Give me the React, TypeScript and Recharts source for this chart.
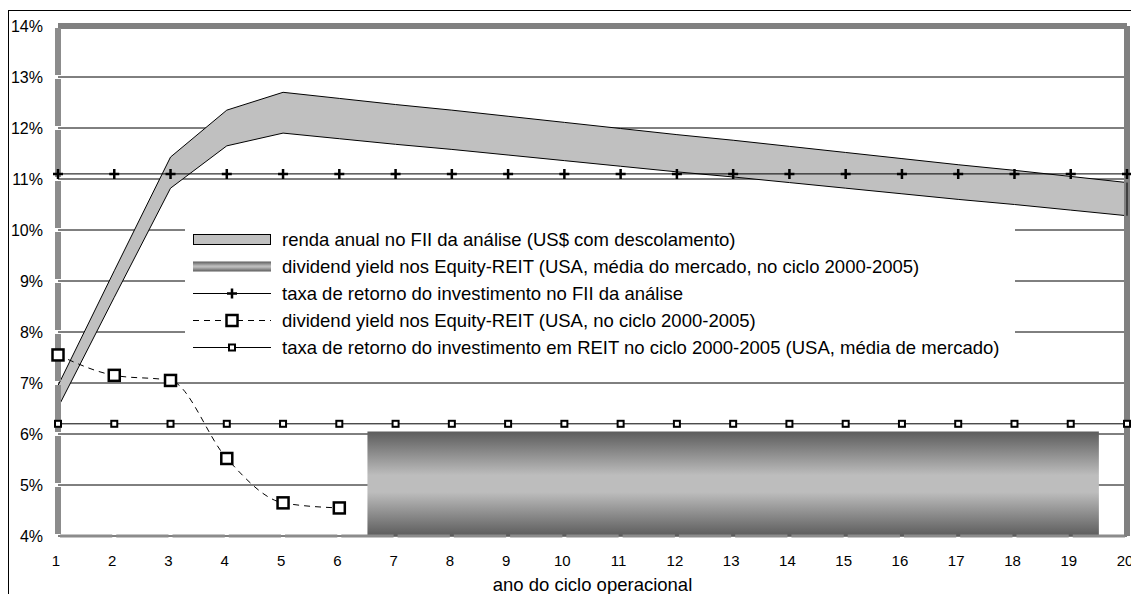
import React from "react";
import {
  ComposedChart,
  Area,
  Line,
  XAxis,
  YAxis,
  CartesianGrid,
  ReferenceLine,
  ReferenceArea,
} from "recharts";

// ano do ciclo operacional
const years = [1, 2, 3, 4, 5, 6, 7, 8, 9, 10, 11, 12, 13, 14, 15, 16, 17, 18, 19, 20];

// renda anual no FII (faixa US$ com descolamento)
const rendaUpper = [
  6.95, 9.2, 11.43, 12.35, 12.7, 12.58, 12.46, 12.35, 12.23, 12.11, 11.99, 11.87, 11.76, 11.64,
  11.52, 11.4, 11.28, 11.17, 11.05, 10.93,
];
const rendaLower = [
  6.52, 8.68, 10.82, 11.65, 11.9, 11.79, 11.68, 11.58, 11.47, 11.36, 11.25, 11.14, 11.04, 10.93,
  10.82, 10.71, 10.6, 10.5, 10.39, 10.28,
];

// taxa de retorno do investimento no FII
const taxaFii = [
  11.1, 11.1, 11.1, 11.1, 11.1, 11.1, 11.1, 11.1, 11.1, 11.1, 11.1, 11.1, 11.1, 11.1, 11.1, 11.1,
  11.1, 11.1, 11.1, 11.1,
];

// dividend yield nos Equity-REIT (ciclo 2000-2005)
const reitYield = [7.55, 7.15, 7.05, 5.52, 4.65, 4.55];

// taxa de retorno REIT (média de mercado)
const taxaReit = [
  6.2, 6.2, 6.2, 6.2, 6.2, 6.2, 6.2, 6.2, 6.2, 6.2, 6.2, 6.2, 6.2, 6.2, 6.2, 6.2, 6.2, 6.2, 6.2,
  6.2,
];

// dividend yield médio do mercado (barra)
const mercadoYears = [7, 8, 9, 10, 11, 12, 13, 14, 15, 16, 17, 18, 19];
const mercadoYield = 6.05;

const yTicks = [4, 5, 6, 7, 8, 9, 10, 11, 12, 13, 14];

const legendItems = [
  "renda anual no FII da análise (US$ com descolamento)",
  "dividend yield nos Equity-REIT (USA, média do mercado, no ciclo 2000-2005)",
  "taxa de retorno do investimento no FII da análise",
  "dividend yield nos Equity-REIT (USA, no ciclo 2000-2005)",
  "taxa de retorno do investimento em REIT no ciclo 2000-2005 (USA, média de mercado)",
];

const data = years.map((year, i) => ({
  year,
  renda: [rendaLower[i], rendaUpper[i]],
  taxaFii: taxaFii[i],
  reitYield: i < reitYield.length ? reitYield[i] : null,
  taxaReit: taxaReit[i],
}));

const W = 1150;
const H = 583;
const margin = { top: 15, right: 32, bottom: 2, left: 0 };
const yAxisW = 49;
const xAxisH = 56;
const plotW = W - margin.left - margin.right - yAxisW;
const plotH = H - margin.top - margin.bottom - xAxisH;

const PlusDot = (props: any) => {
  const { cx, cy, index } = props;
  if (cx == null || cy == null) return <g key={`p-${index}`} />;
  return (
    <path
      key={`p-${index}`}
      d={`M${cx - 5},${cy}h10M${cx},${cy - 5}v10`}
      stroke="#000"
      strokeWidth={2.5}
      fill="none"
    />
  );
};

const makeSquare = (size: number, sw: number) => (props: any) => {
  const { cx, cy, index } = props;
  if (cx == null || cy == null) return <g key={`s-${size}-${index}`} />;
  return (
    <rect
      key={`s-${size}-${index}`}
      x={cx - size / 2}
      y={cy - size / 2}
      width={size}
      height={size}
      fill="#fff"
      stroke="#000"
      strokeWidth={sw}
    />
  );
};

const BigSquare = makeSquare(11, 2.5);
const SmallSquare = makeSquare(6, 2);

const XTick = (props: any) => {
  const { x, y, payload } = props;
  return (
    <text x={x - 2} y={y} dy="0.71em" textAnchor="middle" fill="#000" fontSize={15}>
      {payload.value}
    </text>
  );
};

const LegendSymbol = ({ i }: { i: number }) => {
  const w = 78;
  const h = 27;
  const c = h / 2;
  if (i === 0)
    return (
      <svg width={w} height={h}>
        <rect x={0.5} y={c - 5} width={w - 1} height={10} fill="#c0c0c0" stroke="#000" />
      </svg>
    );
  if (i === 1)
    return (
      <svg width={w} height={h}>
        <defs>
          <linearGradient id="legCyl" x1="0" y1="0" x2="0" y2="1">
            <stop offset="0" stopColor="#5c5c5c" />
            <stop offset="0.45" stopColor="#bdbdbd" />
            <stop offset="0.55" stopColor="#bdbdbd" />
            <stop offset="1" stopColor="#5c5c5c" />
          </linearGradient>
        </defs>
        <rect x={0} y={c - 5} width={w} height={10} fill="url(#legCyl)" />
      </svg>
    );
  const mid = 39;
  return (
    <svg width={w} height={h}>
      <line
        x1={0}
        x2={w}
        y1={c}
        y2={c}
        stroke="#000"
        strokeWidth={1}
        strokeDasharray={i === 3 ? "6 5" : undefined}
      />
      {i === 2 && (
        <path d={`M${mid - 5},${c}h10M${mid},${c - 5}v10`} stroke="#000" strokeWidth={2.5} />
      )}
      {i === 3 && (
        <rect x={mid - 5.5} y={c - 5.5} width={11} height={11} fill="#fff" stroke="#000" strokeWidth={2.5} />
      )}
      {i === 4 && (
        <rect x={mid - 3} y={c - 3} width={6} height={6} fill="#fff" stroke="#000" strokeWidth={2} />
      )}
    </svg>
  );
};

export default function App() {
  return (
    <div
      style={{
        position: "relative",
        marginTop: 2,
        width: W,
        height: H + 10,
        borderTop: "1px solid #000",
        borderLeft: "1px solid #000",
        fontFamily: "'Liberation Sans', Arial, sans-serif",
      }}
    >
      <style>{`body{overflow:hidden}`}</style>
      <div style={{ position: "absolute", left: 0, top: 0 }}>
        <ComposedChart width={W} height={H} data={data} margin={margin}>
          <defs>
            <linearGradient id="cyl" x1="0" y1="0" x2="0" y2="1">
              <stop offset="0" stopColor="#5c5c5c" />
              <stop offset="0.42" stopColor="#bdbdbd" />
              <stop offset="0.58" stopColor="#bdbdbd" />
              <stop offset="1" stopColor="#5c5c5c" />
            </linearGradient>
          </defs>
          <CartesianGrid vertical={false} stroke="#000" strokeWidth={1} />
          <XAxis
            dataKey="year"
            type="number"
            domain={[1, 20]}
            ticks={years}
            interval={0}
            axisLine={false}
            tickLine={false}
            tickSize={6}
            tickMargin={13}
            height={xAxisH}
            tick={<XTick />}
            label={{
              value: "ano do ciclo operacional",
              position: "insideBottom",
              offset: 1,
              fill: "#000",
              fontSize: 18.5,
            }}
          />
          <YAxis
            type="number"
            domain={[4, 14]}
            ticks={yTicks}
            interval={0}
            tickFormatter={(v) => `${v}%`}
            width={yAxisW}
            axisLine={false}
            tickLine={false}
            tickSize={6}
            tickMargin={9}
            tick={{ fill: "#000", fontSize: 16 }}
          />
          <ReferenceArea
            x1={mercadoYears[0] - 0.5}
            x2={mercadoYears[mercadoYears.length - 1] + 0.5}
            y1={4}
            y2={mercadoYield}
            fill="url(#cyl)"
            fillOpacity={1}
            stroke="none"
          />
          <ReferenceLine y={14} stroke="#808080" strokeWidth={6} />
          <ReferenceLine
            y={4}
            stroke="#8c8c8c"
            strokeWidth={3}
            strokeDasharray={`0 2 ${plotW / 19 - 4} 2`}
          />
          <ReferenceLine
            x={1}
            stroke="#8c8c8c"
            strokeWidth={6}
            strokeDasharray={`0 2 ${plotH / 10 - 4} 2`}
          />
          <ReferenceLine x={20} stroke="#808080" strokeWidth={6} />
          <Area
            dataKey="renda"
            type="linear"
            fill="#c0c0c0"
            fillOpacity={1}
            stroke="#000"
            strokeWidth={1}
            dot={false}
            activeDot={false}
            isAnimationActive={false}
          />
          <ReferenceLine
            segment={[
              { x: 20, y: rendaLower[rendaLower.length - 1] },
              { x: 20, y: rendaUpper[rendaUpper.length - 1] },
            ]}
            stroke="#000"
            strokeWidth={1}
          />
          <Line
            dataKey="taxaFii"
            type="linear"
            stroke="#000"
            strokeWidth={1}
            dot={PlusDot}
            activeDot={false}
            isAnimationActive={false}
          />
          <Line
            dataKey="taxaReit"
            type="linear"
            stroke="#000"
            strokeWidth={1}
            dot={SmallSquare}
            activeDot={false}
            isAnimationActive={false}
          />
          <Line
            dataKey="reitYield"
            type="monotone"
            stroke="#000"
            strokeWidth={1}
            strokeDasharray="6 5"
            dot={BigSquare}
            activeDot={false}
            connectNulls={false}
            isAnimationActive={false}
          />
        </ComposedChart>
      </div>
      <div
        style={{
          position: "absolute",
          left: 176,
          top: 215,
          width: 830,
          height: 145,
          background: "#fff",
          paddingLeft: 8,
          boxSizing: "border-box",
        }}
      >
        {legendItems.map((t, i) => (
          <div key={t} style={{ display: "flex", alignItems: "center", height: 27 }}>
            <LegendSymbol i={i} />
            <span style={{ marginLeft: 11, fontSize: 18.5, color: "#000", whiteSpace: "nowrap" }}>
              {t}
            </span>
          </div>
        ))}
      </div>
    </div>
  );
}
